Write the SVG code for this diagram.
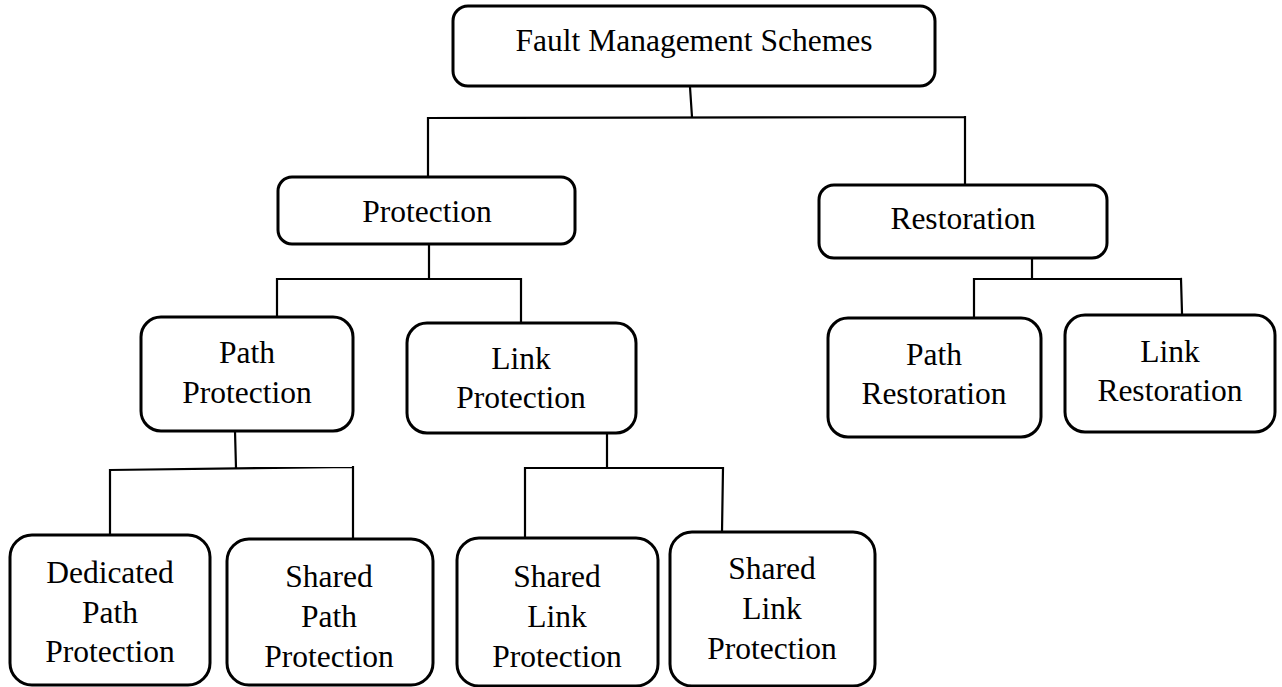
<svg xmlns="http://www.w3.org/2000/svg" width="1282" height="687" viewBox="0 0 1282 687">
  <style>
    .box { fill: #ffffff; stroke: #000000; stroke-width: 3; }
    .link { fill: none; stroke: #000000; stroke-width: 2.2; stroke-linecap: square; }
    text { font-family: 'Liberation Serif', 'Times New Roman', Times, serif; font-size: 31.5px; fill: #000000; text-anchor: middle; }
  </style>
  <rect width="1282" height="687" fill="#ffffff"/>

  <!-- tree connectors -->
  <g id="connectors">
    <path class="link" d="M690,87 L692,117 M428,118 L965,117 M428,118 L428,176 M965,117 L965,183"/>
    <path class="link" d="M429,245 L429,279 M277,279 L521,279 M277,279 L277,316 M521,279 L521,322"/>
    <path class="link" d="M1032,259 L1032,278 M974,279 L1181,279 M974,279 L974,317 M1181,279 L1182,313"/>
    <path class="link" d="M235,431 L236,468 M110,470 L353,467 M110,470 L110,534 M353,467 L353,538"/>
    <path class="link" d="M607,434 L607,468 M525,468 L723,468 M525,468 L525,537 M723,468 L722,532"/>
  </g>

  <g font-family="Liberation Serif, Times New Roman, serif">
    <g id="fault-management">
      <rect class="box" x="453" y="6" width="482" height="80" rx="15"/>
      <text x="694" y="51">Fault Management Schemes</text>
    </g>

    <g id="protection">
      <rect class="box" x="278" y="177" width="297" height="67" rx="14"/>
      <text x="427" y="222">Protection</text>
    </g>

    <g id="restoration">
      <rect class="box" x="819" y="185" width="288" height="73" rx="15"/>
      <text x="963" y="229">Restoration</text>
    </g>

    <g id="path-protection">
      <rect class="box" x="141" y="317" width="212" height="114" rx="20"/>
      <text x="247" y="363">Path</text>
      <text x="247" y="403">Protection</text>
    </g>

    <g id="link-protection">
      <rect class="box" x="407" y="323" width="229" height="110" rx="20"/>
      <text x="521" y="369">Link</text>
      <text x="521" y="408">Protection</text>
    </g>

    <g id="path-restoration">
      <rect class="box" x="828" y="318" width="213" height="119" rx="20"/>
      <text x="934" y="365">Path</text>
      <text x="934" y="404">Restoration</text>
    </g>

    <g id="link-restoration">
      <rect class="box" x="1065" y="315" width="210" height="117" rx="20"/>
      <text x="1170" y="362">Link</text>
      <text x="1170" y="401">Restoration</text>
    </g>

    <g id="dedicated-path-protection">
      <rect class="box" x="10" y="535" width="200" height="150" rx="22"/>
      <text x="110" y="583">Dedicated</text>
      <text x="110" y="623">Path</text>
      <text x="110" y="662">Protection</text>
    </g>

    <g id="shared-path-protection">
      <rect class="box" x="227" y="539" width="206" height="146" rx="22"/>
      <text x="329" y="587">Shared</text>
      <text x="329" y="627">Path</text>
      <text x="329" y="667">Protection</text>
    </g>

    <g id="shared-link-protection-1">
      <rect class="box" x="457" y="538" width="201" height="148" rx="22"/>
      <text x="557" y="587">Shared</text>
      <text x="557" y="627">Link</text>
      <text x="557" y="667">Protection</text>
    </g>

    <g id="shared-link-protection-2">
      <rect class="box" x="670" y="532" width="205" height="154" rx="22"/>
      <text x="772" y="579">Shared</text>
      <text x="772" y="619">Link</text>
      <text x="772" y="659">Protection</text>
    </g>
  </g>
</svg>
